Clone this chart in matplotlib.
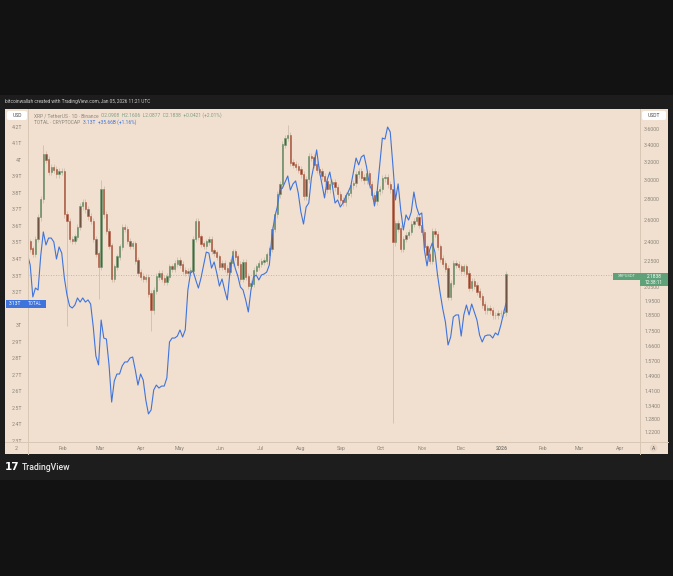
import numpy as np
import pandas as pd
import matplotlib
matplotlib.use("Agg")
import matplotlib.pyplot as plt
from matplotlib.patches import Rectangle, FancyBboxPatch
from matplotlib.lines import Line2D
from matplotlib.ticker import FixedLocator, NullLocator, FixedFormatter

plt.rcParams['font.family'] = ['Roboto', 'DejaVu Sans']

# XRP / TetherUS closes, one every second day starting 2025-01-05
xrp_first_open = 2.45
xrp_close = [
    2.405, 2.346, 2.304, 2.430, 2.627, 2.800, 3.284, 3.226, 3.092, 3.136,
    3.114, 3.060, 3.092, 3.092, 2.655, 2.591, 2.430, 2.413, 2.448, 2.536,
    2.732, 2.771, 2.703, 2.636, 2.591, 2.430, 2.304, 2.200, 2.901, 2.655,
    2.500, 2.371, 2.109, 2.200, 2.280, 2.363, 2.536, 2.518, 2.413, 2.371,
    2.388, 2.248, 2.155, 2.124, 2.109, 2.117, 2.000, 1.883, 2.021, 2.124,
    2.147, 2.109, 2.087, 2.124, 2.200, 2.185, 2.224, 2.248, 2.216, 2.170,
    2.155, 2.162, 2.170, 2.430, 2.591, 2.448, 2.388, 2.371, 2.405, 2.430,
    2.329, 2.312, 2.280, 2.200, 2.224, 2.185, 2.162, 2.232, 2.321, 2.280,
    2.216, 2.109, 2.232, 2.124, 2.058, 2.072, 2.170, 2.200, 2.224, 2.240,
    2.248, 2.296, 2.346, 2.518, 2.655, 2.850, 2.953, 3.402, 3.487, 3.524,
    3.192, 3.170, 3.147, 3.114, 3.060, 2.830, 3.006, 3.261, 3.249, 3.170,
    3.114, 3.092, 3.038, 2.985, 2.901, 2.953, 2.974, 2.922, 2.850, 2.790,
    2.771, 2.840, 2.860, 2.943, 2.964, 3.060, 3.092, 3.027, 2.995, 3.071,
    2.953, 2.840, 2.780, 2.881, 2.901, 3.017, 3.027, 2.953, 2.901, 2.400,
    2.570, 2.520, 2.346, 2.430, 2.465, 2.491, 2.563, 2.591, 2.627, 2.554,
    2.491, 2.363, 2.296, 2.248, 2.500, 2.474, 2.363, 2.264, 2.224, 2.185,
    1.979, 2.072, 2.224, 2.216, 2.200, 2.170, 2.200, 2.147, 2.043, 2.087,
    2.058, 2.014, 1.979, 1.923, 1.883, 1.896, 1.883, 1.850, 1.850, 1.863,
    1.863, 1.870, 2.140,
]
# long wicks that stand out (candle index -> price)
xrp_wick_high = {6: 3.40, 28: 3.00, 99: 3.65}
xrp_wick_low = {15: 1.78, 27: 1.96, 47: 1.75, 139: 1.26}

# TOTAL crypto market cap (trillions USD), same dates
total_cap = [
    3.424, 3.364, 3.170, 3.224, 3.212, 3.418, 3.564, 3.485, 3.527, 3.527,
    3.503, 3.400, 3.473, 3.436, 3.285, 3.182, 3.115, 3.103, 3.121, 3.164,
    3.139, 3.164, 3.139, 3.152, 3.127, 2.988, 2.812, 2.758, 3.030, 2.921,
    2.915, 2.758, 2.533, 2.661, 2.703, 2.703, 2.752, 2.776, 2.776, 2.800,
    2.806, 2.727, 2.636, 2.703, 2.667, 2.545, 2.461, 2.485, 2.606, 2.636,
    2.618, 2.630, 2.630, 2.679, 2.897, 2.921, 2.921, 2.933, 2.970, 2.927,
    2.970, 3.212, 3.315, 3.327, 3.273, 3.224, 3.285, 3.364, 3.442, 3.436,
    3.345, 3.382, 3.315, 3.236, 3.279, 3.212, 3.152, 3.321, 3.418, 3.345,
    3.297, 3.230, 3.212, 3.152, 3.079, 3.212, 3.291, 3.303, 3.273, 3.303,
    3.309, 3.321, 3.364, 3.545, 3.648, 3.715, 3.818, 3.830, 3.867, 3.903,
    3.818, 3.855, 3.873, 3.800, 3.685, 3.612, 3.715, 3.739, 3.891, 3.970,
    4.061, 3.939, 3.855, 3.770, 3.879, 3.927, 3.842, 3.739, 3.758, 3.715,
    3.739, 3.776, 3.806, 3.842, 3.927, 4.012, 3.970, 4.018, 4.030, 3.958,
    3.855, 3.818, 3.721, 3.806, 3.970, 4.133, 4.127, 4.200, 4.170, 3.970,
    3.758, 3.855, 3.697, 3.576, 3.667, 3.636, 3.685, 3.806, 3.715, 3.667,
    3.679, 3.455, 3.358, 3.455, 3.497, 3.442, 3.303, 3.194, 3.097, 3.018,
    2.879, 2.927, 3.048, 3.061, 3.061, 2.933, 3.061, 3.121, 3.061, 3.127,
    3.079, 3.030, 2.939, 2.897, 2.933, 2.939, 2.939, 2.921, 2.952, 2.939,
    2.994, 3.061, 3.130,
]

xrp_ticks = [3.6, 3.4, 3.2, 3.0, 2.8, 2.6, 2.4, 2.25, 2.05, 1.95, 1.85,
             1.75, 1.66, 1.57, 1.49, 1.41, 1.34, 1.28, 1.22]
total_ticks = [4.2, 4.1, 4.0, 3.9, 3.8, 3.7, 3.6, 3.5, 3.4, 3.3, 3.2,
               3.0, 2.9, 2.8, 2.7, 2.6, 2.5, 2.4, 2.3]
total_tick_labels = ['4.2T', '4.1T', '4T', '3.9T', '3.8T', '3.7T', '3.6T',
                     '3.5T', '3.4T', '3.3T', '3.2T', '3T', '2.9T', '2.8T',
                     '2.7T', '2.6T', '2.5T', '2.4T', '2.3T']
month_labels = ['Feb', 'Mar', 'Apr', 'May', 'Jun', 'Jul', 'Aug', 'Sep',
                'Oct', 'Nov', 'Dec', '2026', 'Feb', 'Mar', 'Apr']

W, H = 673, 576
BEIGE = '#f1e0cf'
LINE = '#d9c7b5'
GREY = '#8a847c'
UP = '#62a070'
DOWN = '#c45a40'
BODY = '#6e5442'
BLUE = '#3f74dc'
GREEN_LBL = '#5fa27a'


def px(x, y):
    return x / W, 1 - y / H


fig = plt.figure(figsize=(W / 100, H / 100), dpi=100, facecolor='#121212')

# screenshot band and beige chart panel (behind the axes)
fig.patches.append(Rectangle(px(0, 480), 1, 385 / H, transform=fig.transFigure,
                             facecolor='#1d1d1d', edgecolor='none', zorder=-3))
fig.patches.append(Rectangle(px(5, 454), 663 / W, 345 / H, transform=fig.transFigure,
                             facecolor=BEIGE, edgecolor='none', zorder=-2))

ax = fig.add_axes([28 / W, 1 - 442 / H, 612 / W, 333 / H])
ax.set_facecolor(BEIGE)
ax_t = ax.twinx()

dates = pd.date_range('2025-01-05', periods=len(xrp_close), freq='2D')
opens = [xrp_first_open] + xrp_close[:-1]

# candles
wick_pad = 0.012
for i, (d, o, c) in enumerate(zip(dates, opens, xrp_close)):
    hi = xrp_wick_high.get(i, max(o, c) * (1 + wick_pad))
    lo = xrp_wick_low.get(i, min(o, c) * (1 - wick_pad))
    ax.vlines(d, lo, hi, color='#c2b2a2', lw=0.45, zorder=2)
    col = UP if c >= o else DOWN
    ax.bar(d, abs(c - o) + 0.004, bottom=min(o, c), width=1.0,
           facecolor=BODY, edgecolor=col, lw=0.4, zorder=3)

ax.axhline(xrp_close[-1], color='#b9a897', lw=0.6, ls=(0, (1, 2)), zorder=1)

ax.set_yscale('log')
ax.set_ylim(1.177, 3.866)
ax.yaxis.set_ticks_position('right')
ax.yaxis.set_major_locator(FixedLocator(xrp_ticks))
ax.yaxis.set_major_formatter(FixedFormatter([f'{v:.4f}' for v in xrp_ticks]))
ax.yaxis.set_minor_locator(NullLocator())

# total market cap line on the left scale
ax_t.plot(dates, total_cap, color=BLUE, lw=0.8, zorder=4)
ax_t.set_ylim(2.291, 4.309)
ax_t.yaxis.set_ticks_position('left')
ax_t.yaxis.set_major_locator(FixedLocator(total_ticks))
ax_t.yaxis.set_major_formatter(FixedFormatter(total_tick_labels))

months = pd.date_range('2025-02-01', periods=len(month_labels), freq='MS')
ax.set_xlim(pd.Timestamp('2025-01-05 08:00'), pd.Timestamp('2026-04-16 02:00'))
ax.set_xticks(months)
ax.set_xticklabels(month_labels)
for lbl in ax.get_xticklabels():
    if lbl.get_text() == '2026':
        lbl.set_fontweight('bold')
        lbl.set_color('#5c5852')

for a in (ax, ax_t):
    for s in a.spines.values():
        s.set_visible(False)
ax.tick_params(axis='y', length=0, pad=3.0, labelsize=3.8, labelcolor=GREY)
ax.tick_params(axis='x', length=0, pad=3.2, labelsize=3.8, labelcolor=GREY)
ax_t.tick_params(axis='y', length=0, pad=4.2, labelsize=3.8, labelcolor=GREY)

# panel separators
for (x0, y0, x1, y1) in [(28, 109, 28, 454), (640, 109, 640, 454), (5, 442, 668, 442)]:
    a, b = px(x0, y0)
    c, d = px(x1, y1)
    fig.lines.append(Line2D([a, c], [b, d], transform=fig.transFigure,
                            color=LINE, lw=0.7, zorder=5))

# header and footer
fig.text(*px(5, 102), 'bitcoinwallah created with TradingView.com, Jan 05, 2026 11:21 UTC',
         color='#cfcfcf', fontsize=3.4, va='center', ha='left')
fig.text(*px(5, 467), '17', color='white', fontsize=7.5, fontweight='heavy',
         va='center', ha='left', family=['DejaVu Sans'])
fig.text(*px(22, 467), 'TradingView', color='#e8e8e8', fontsize=6.2,
         fontweight='medium', va='center', ha='left')

# currency boxes
for (x0, x1, txt) in [(7, 27, 'USD'), (642, 666, 'USDT')]:
    fig.patches.append(FancyBboxPatch(px(x0, 120), (x1 - x0) / W, 9 / H,
                                      boxstyle='round,pad=0,rounding_size=0.003',
                                      transform=fig.transFigure, facecolor='white',
                                      edgecolor='none', zorder=6))
    fig.text(*px((x0 + x1) / 2, 115.5), txt, color='#4a4a4a', fontsize=3.6,
             ha='center', va='center', zorder=7)

# legend lines, pieces placed one after the other
fig.canvas.draw()
renderer = fig.canvas.get_renderer()


def legend_line(y, parts):
    x = 34
    for txt, col in parts:
        t = fig.text(*px(x, y), txt, color=col, fontsize=3.5, ha='left', va='center', zorder=7)
        bb = t.get_window_extent(renderer=renderer)
        x += bb.width + 2.5


legend_line(115.5, [('XRP / TetherUS · 1D · Binance', '#8c867f'),
                    ('O2.0908  H2.1606  L2.0877  C2.1838  +0.0421 (+2.01%)', '#7e9e87')])
legend_line(122.5, [('TOTAL · CRYPTOCAP', '#8c867f'),
                    ('3.13T  +35.66B (+1.16%)', BLUE)])

# last value labels
fig.patches.append(Rectangle(px(6, 307.5), 40 / W, 8 / H, transform=fig.transFigure,
                             facecolor=BLUE, edgecolor='none', zorder=6))
fig.text(*px(9, 303.5), '3.13T', color='white', fontsize=3.5, va='center', ha='left', zorder=7)
fig.text(*px(28, 303.5), 'TOTAL', color='#dfe8ff', fontsize=3.3, va='center', ha='left', zorder=7)

fig.patches.append(Rectangle(px(613, 279.5), 27 / W, 6.5 / H, transform=fig.transFigure,
                             facecolor=GREEN_LBL, edgecolor='none', zorder=6))
fig.text(*px(626.5, 276.3), 'XRPUSDT', color='#d2ebdb', fontsize=3.0, va='center',
         ha='center', zorder=7)
fig.patches.append(Rectangle(px(640, 286.5), 28 / W, 13.5 / H, transform=fig.transFigure,
                             facecolor=GREEN_LBL, edgecolor='none', zorder=6))
fig.text(*px(654, 276.3), '2.1838', color='white', fontsize=3.5, va='center',
         ha='center', zorder=7)
fig.text(*px(654, 282.8), '12:38:11', color='white', fontsize=3.3, va='center',
         ha='center', zorder=7)

# bottom corner items
fig.text(*px(16, 448), '2', color=GREY, fontsize=3.8, va='center', ha='center')
fig.text(*px(653.5, 448), 'A', color='#6b665f', fontsize=3.6, va='center', ha='center',
         bbox=dict(boxstyle='circle,pad=0.25', facecolor='#e6d3c1', edgecolor='none'))

fig.savefig('out.png', dpi=100, facecolor=fig.get_facecolor())
